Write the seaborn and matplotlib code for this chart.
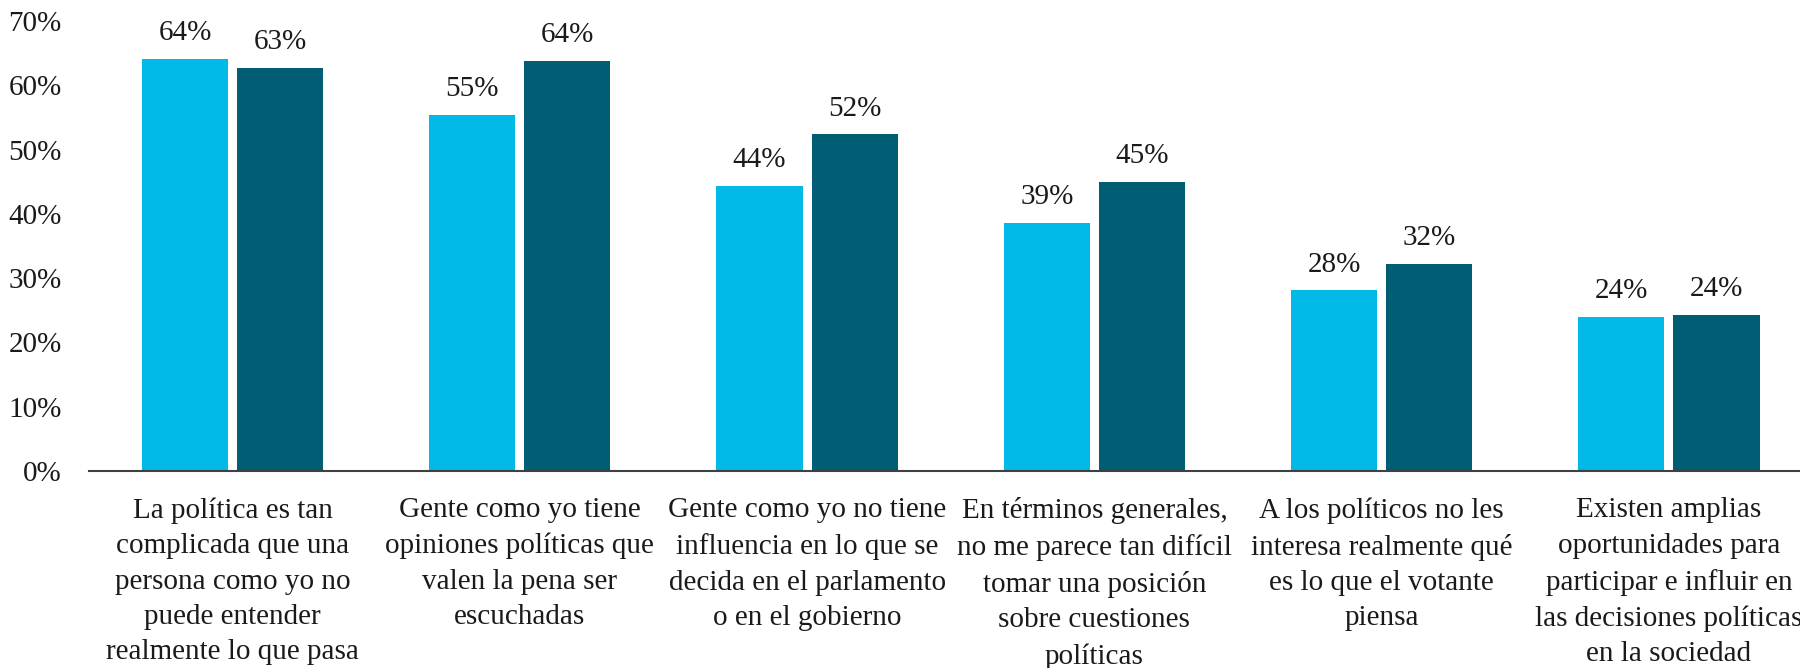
import pandas as pd
import seaborn as sns
import matplotlib.pyplot as plt

# Datos
categorias = [
    "La política es tan\ncomplicada que una\npersona como yo no\npuede entender\nrealmente lo que pasa",
    "Gente como yo tiene\nopiniones políticas que\nvalen la pena ser\nescuchadas",
    "Gente como yo no tiene\ninfluencia en lo que se\ndecida en el parlamento\no en el gobierno",
    "En términos generales,\nno me parece tan difícil\ntomar una posición\nsobre cuestiones\npolíticas",
    "A los políticos no les\ninteresa realmente qué\nes lo que el votante\npiensa",
    "Existen amplias\noportunidades para\nparticipar e influir en\nlas decisiones políticas\nen la sociedad",
]
serie_a = [64.1, 55.4, 44.4, 38.6, 28.1, 24.0]
serie_b = [62.7, 63.8, 52.4, 45.0, 32.2, 24.3]
series = ["Serie A", "Serie B"]
colores = ["#00B9E7", "#005D74"]

df = pd.DataFrame({
    "categoria": categorias * 2,
    "serie": [series[0]] * len(categorias) + [series[1]] * len(categorias),
    "valor": serie_a + serie_b,
})

sns.set_style("white")
plt.rcParams["font.family"] = ["Liberation Serif", "DejaVu Serif"]

fig = plt.figure(figsize=(18, 6.68), dpi=100)
ax = fig.add_axes([0.0494, 0.295, 0.9576, 0.6736])

sns.barplot(data=df, x="categoria", y="valor", hue="serie", palette=colores,
            width=0.662, gap=0.094, legend=False, ax=ax, saturation=1,
            edgecolor="none")

# Etiquetas de valor
for cont in ax.containers:
    for barra in cont:
        h = barra.get_height()
        ax.annotate(f"{h:.0f}%", (barra.get_x() + barra.get_width() / 2, h),
                    xytext=(0, 9), textcoords="offset points",
                    ha="center", va="bottom", fontsize=21, color="#1a1a1a")

ax.set_xlim(-0.5, 5.5)
ax.set_ylim(0, 70)
ax.set_yticks(range(0, 71, 10))
ax.set_yticklabels([f"{t}%" for t in range(0, 71, 10)], fontsize=21, color="#1a1a1a")
ax.set_xticks(range(len(categorias)))
ax.set_xticklabels(categorias, fontsize=21, color="#1a1a1a", linespacing=1.47)
ax.tick_params(axis="both", length=0)
ax.tick_params(axis="x", pad=19)
ax.tick_params(axis="y", pad=19.5)
ax.set_xlabel("")
ax.set_ylabel("")

sns.despine(ax=ax, left=True)
ax.spines["bottom"].set_color("#404040")
ax.spines["bottom"].set_linewidth(1.5)

fig.savefig("out.png", dpi=100)
